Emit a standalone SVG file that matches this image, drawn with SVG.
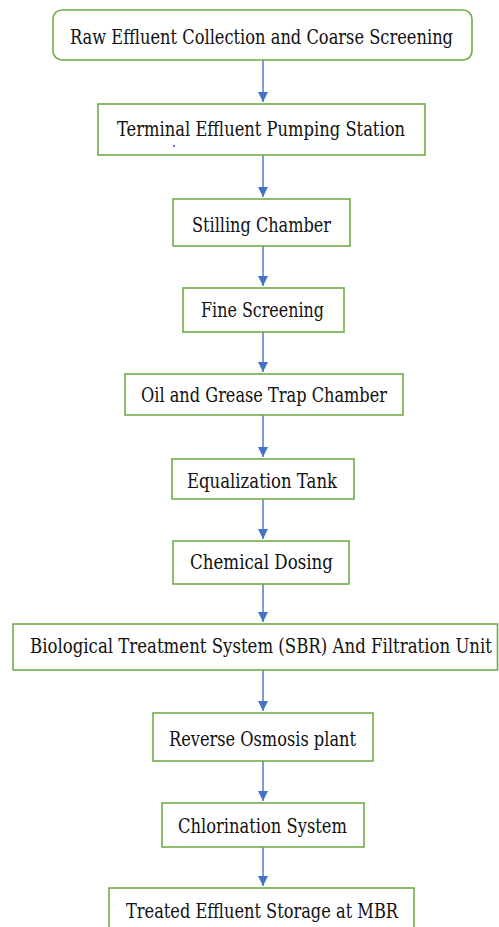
<svg xmlns="http://www.w3.org/2000/svg" width="499" height="927" viewBox="0 0 499 927">
<defs>
<marker id="ah" markerWidth="10" markerHeight="12" refX="10" refY="5" orient="auto" markerUnits="userSpaceOnUse" viewBox="0 0 10 10">
<path d="M0,0 L10,5 L0,10 z" fill="#4472C4"/>
</marker>
</defs>
<style>
.box{fill:#ffffff;stroke:#70AD47;stroke-width:1.6}
.lbl{font-family:'DejaVu Serif','Liberation Serif',serif;font-size:21px;fill:#111111;text-anchor:middle}
.con{stroke:#4472C4;stroke-width:1.4;fill:none;marker-end:url(#ah)}
</style>
<rect width="499" height="927" fill="#ffffff"/>
<g id="connectors">
<line class="con" x1="263" y1="60" x2="263" y2="102"/>
<line class="con" x1="263" y1="155" x2="263" y2="197"/>
<line class="con" x1="263" y1="246" x2="263" y2="286"/>
<line class="con" x1="263" y1="332" x2="263" y2="372"/>
<line class="con" x1="263" y1="415" x2="263" y2="457"/>
<line class="con" x1="263" y1="499" x2="263" y2="539"/>
<line class="con" x1="263" y1="584" x2="263" y2="622"/>
<line class="con" x1="263" y1="670" x2="263" y2="711"/>
<line class="con" x1="263" y1="761" x2="263" y2="801"/>
<line class="con" x1="263" y1="847" x2="263" y2="886"/>
</g>
<g id="n1"><rect class="box" x="53" y="10" width="419" height="50" rx="9"/><text class="lbl" transform="translate(261.5,44) scale(0.75,1)" x="0" y="0" textLength="510.7" lengthAdjust="spacingAndGlyphs">Raw Effluent Collection and Coarse Screening</text></g>
<g id="n2"><rect class="box" x="98" y="104" width="327" height="51"/><text class="lbl" transform="translate(261,136) scale(0.75,1)" x="0" y="0" textLength="384" lengthAdjust="spacingAndGlyphs">Terminal Effluent Pumping Station</text></g>
<circle cx="174" cy="146" r="1" fill="#3344dd"/>
<g id="n3"><rect class="box" x="173" y="199" width="177" height="47"/><text class="lbl" transform="translate(261.5,232) scale(0.75,1)" x="0" y="0" textLength="185.3" lengthAdjust="spacingAndGlyphs">Stilling Chamber</text></g>
<g id="n4"><rect class="box" x="183" y="288" width="161" height="44"/><text class="lbl" transform="translate(262.5,317) scale(0.75,1)" x="0" y="0" textLength="164" lengthAdjust="spacingAndGlyphs">Fine Screening</text></g>
<g id="n5"><rect class="box" x="125" y="374" width="278" height="41"/><text class="lbl" transform="translate(264,402) scale(0.75,1)" x="0" y="0" textLength="328" lengthAdjust="spacingAndGlyphs">Oil and Grease Trap Chamber</text></g>
<g id="n6"><rect class="box" x="172" y="459" width="182" height="40"/><text class="lbl" transform="translate(262,488) scale(0.75,1)" x="0" y="0" textLength="200" lengthAdjust="spacingAndGlyphs">Equalization Tank</text></g>
<g id="n7"><rect class="box" x="173" y="541" width="176" height="43"/><text class="lbl" transform="translate(261.5,569) scale(0.75,1)" x="0" y="0" textLength="190.7" lengthAdjust="spacingAndGlyphs">Chemical Dosing</text></g>
<g id="n8"><rect class="box" x="13" y="624" width="484.5" height="46"/><text class="lbl" transform="translate(261,653) scale(0.75,1)" x="0" y="0" textLength="616" lengthAdjust="spacingAndGlyphs">Biological Treatment System (SBR) And Filtration Unit</text></g>
<g id="n9"><rect class="box" x="153" y="713" width="220" height="48"/><text class="lbl" transform="translate(262.5,746) scale(0.75,1)" x="0" y="0" textLength="249.3" lengthAdjust="spacingAndGlyphs">Reverse Osmosis plant</text></g>
<g id="n10"><rect class="box" x="162" y="803" width="202" height="44"/><text class="lbl" transform="translate(262.5,833) scale(0.75,1)" x="0" y="0" textLength="225.3" lengthAdjust="spacingAndGlyphs">Chlorination System</text></g>
<g id="n11"><rect class="box" x="109" y="888" width="305" height="50"/><text class="lbl" transform="translate(262,918) scale(0.75,1)" x="0" y="0" textLength="362.7" lengthAdjust="spacingAndGlyphs">Treated Effluent Storage at MBR</text></g>
</svg>
